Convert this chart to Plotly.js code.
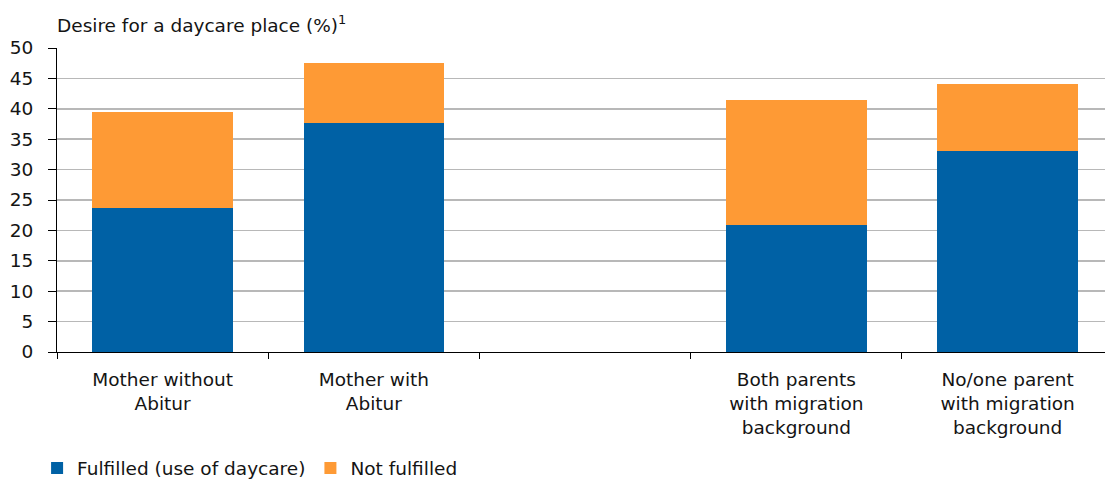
<!DOCTYPE html>
<html>
<head>
<meta charset="utf-8">
<script src="https://cdn.plot.ly/plotly-3.0.1.min.js"></script>
<style>
  html, body { margin: 0; padding: 0; background: #ffffff; }
  #chart { width: 1105px; height: 481px; }
</style>
</head>
<body>
<div id="chart"></div>
<script>
// Groups (the blank one separates education from migration background)
const categories = [
  'Mother without<br>Abitur',
  'Mother with<br>Abitur',
  ' ',
  'Both parents<br>with migration<br>background',
  'No/one parent<br>with migration<br>background'
];

// Share of families wanting a daycare place, in percent
const fulfilled    = [23.7, 37.7, null, 20.9, 33.1];
const notFulfilled = [15.7,  9.9, null, 20.6, 11.0];

const seriesNames = ['Fulfilled (use of daycare)', 'Not fulfilled'];
const yTicks = [0, 5, 10, 15, 20, 25, 30, 35, 40, 45, 50];

const FONT = 'DejaVu Sans, sans-serif';
const FS = 18.5;
const TEXT = '#141414';

const traces = [
  {
    type: 'bar',
    name: seriesNames[0],
    x: categories,
    y: fulfilled,
    marker: { color: '#0061a5', line: { width: 0 } },
    width: 0.665,
    hoverinfo: 'skip'
  },
  {
    type: 'bar',
    name: seriesNames[1],
    x: categories,
    y: notFulfilled,
    marker: { color: '#fe9a35', line: { width: 0 } },
    width: 0.665,
    hoverinfo: 'skip'
  }
];

const layout = {
  width: 1105,
  height: 481,
  barmode: 'stack',
  paper_bgcolor: '#ffffff',
  plot_bgcolor: '#ffffff',
  font: { family: FONT, size: FS, color: TEXT },
  margin: { l: 57, r: 0, t: 48, b: 129, pad: 0, autoexpand: false },
  showlegend: true,
  legend: {
    orientation: 'h',
    x: -0.019,
    xanchor: 'left',
    y: -0.321,
    yanchor: 'top',
    font: { family: FONT, size: FS, color: TEXT },
    bgcolor: 'rgba(0,0,0,0)',
    traceorder: 'normal',
    itemclick: false,
    itemdoubleclick: false
  },
  xaxis: {
    type: 'category',
    categoryorder: 'array',
    categoryarray: categories,
    range: [-0.5, 4.461],
    tickson: 'boundaries',
    ticks: 'outside',
    ticklen: 6,
    tickwidth: 1,
    tickcolor: '#000000',
    showline: true,
    linecolor: '#000000',
    linewidth: 1,
    showgrid: false,
    zeroline: false,
    tickfont: { family: FONT, size: FS, color: TEXT },
    ticklabelstandoff: 11,
    fixedrange: true
  },
  yaxis: {
    range: [0, 50],
    tickvals: yTicks,
    ticktext: yTicks.map(String),
    ticks: 'outside',
    ticklen: 8,
    tickwidth: 1,
    tickcolor: '#000000',
    showline: true,
    linecolor: '#000000',
    linewidth: 1,
    showgrid: true,
    gridcolor: '#b8b8b8',
    gridwidth: 1.5,
    zeroline: false,
    tickfont: { family: FONT, size: FS, color: TEXT },
    ticklabelstandoff: 11,
    fixedrange: true
  },
  annotations: [
    {
      text: 'Desire for a daycare place (%)<sup>1</sup>',
      xref: 'paper',
      yref: 'paper',
      x: -0.002,
      y: 1,
      xanchor: 'left',
      yanchor: 'bottom',
      yshift: 10,
      showarrow: false,
      font: { family: FONT, size: FS, color: TEXT }
    }
  ]
};

Plotly.newPlot('chart', traces, layout, { displayModeBar: false, staticPlot: true });
</script>
</body>
</html>
